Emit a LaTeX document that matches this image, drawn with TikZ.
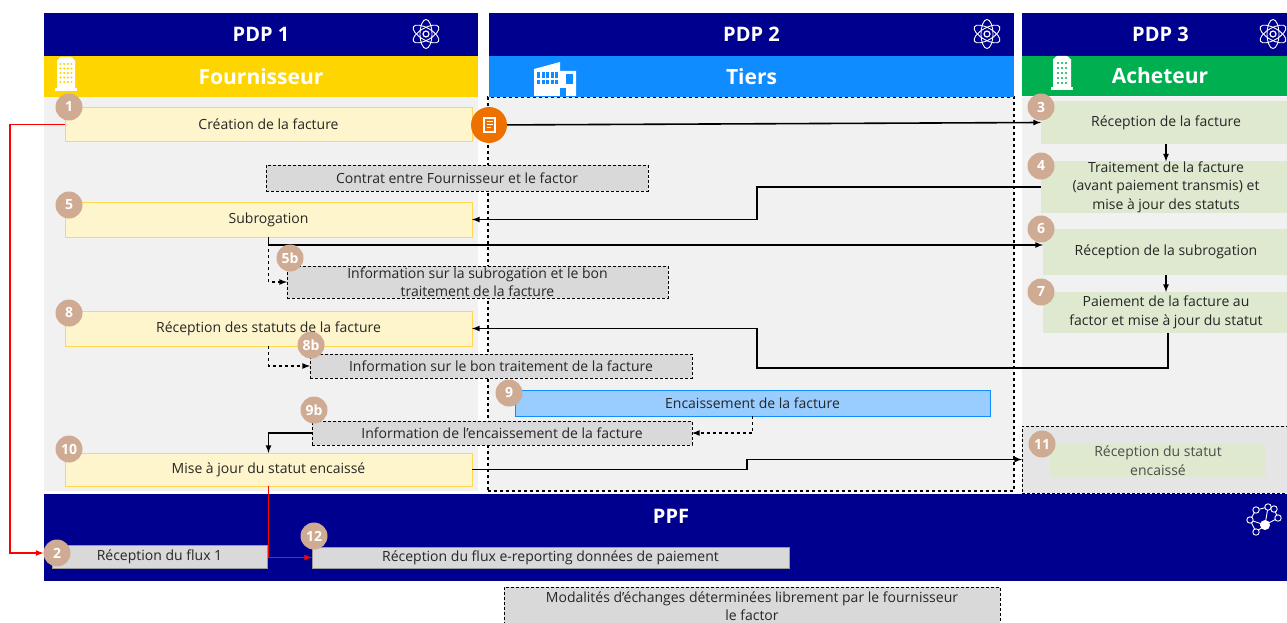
\documentclass[tikz,border=0pt]{standalone}
\usepackage{fontspec}
\usepackage{xcolor}
\setmainfont{Open Sans}

\definecolor{navy}{HTML}{00008F}
\definecolor{jaune}{HTML}{FFD500}
\definecolor{bleu}{HTML}{0F8CFF}
\definecolor{vert}{HTML}{00AF50}
\definecolor{panel}{HTML}{F1F1F1}
\definecolor{jauneclair}{HTML}{FFF5CC}
\definecolor{jaunebord}{HTML}{FFD84D}
\definecolor{vertclair}{HTML}{DFE9CF}
\definecolor{bleuclair}{HTML}{99CCFF}
\definecolor{grisbox}{HTML}{D9D9D9}
\definecolor{numero}{HTML}{CFAB93}
\definecolor{orangedoc}{HTML}{EE7100}

\newcommand{\atomicon}[1]{
\begin{scope}[shift={#1}]
\foreach \ang in {30,90,150} {
\draw [white,line width=0.9pt,rotate=\ang] (0,0) ellipse (14.5 and 6);
}
\draw [white,line width=1.2pt] (0,0) circle (3);
\end{scope}
}

\newcommand{\buildingicon}[1]{
\begin{scope}[shift={#1}]
\fill [white] (-9,33) -- (-9,3) to [out=-80, in=180] (-5,0) -- (5,0) to [out=0, in=-100] (9,3) -- (9,33) -- cycle;
\fill [white] (-11,31) rectangle (11,34);
\end{scope}
}

\begin{document}
\begin{tikzpicture}[x=1pt,y=-1pt]
\tikzset{inner sep=0pt, outer sep=0pt}
\tikzset{txt/.style={font=\fontsize{14}{18.5}\selectfont, text=black!85, align=center}}
\tikzset{head/.style={font=\fontsize{20}{24}\selectfont\bfseries, text=white, fill=navy}}
\tikzset{role/.style={font=\fontsize{21}{24}\selectfont\bfseries, text=white}}
\tikzset{yellowbox/.style={txt, fill=jauneclair, draw=jaunebord, line width=1pt}}
\tikzset{greenbox/.style={txt, fill=vertclair}}
\tikzset{greybox/.style={txt, fill=grisbox, draw=black, densely dashed, line width=0.8pt}}
\tikzset{plainbox/.style={txt, fill=grisbox, draw=black!40, line width=0.8pt}}
\tikzset{num/.style={circle, fill=numero, minimum size=27pt, text=white, font=\fontsize{14}{14}\selectfont\bfseries}}
\tikzset{solidline/.style={draw=black, line width=1.6pt, -latex}}
\tikzset{dashline/.style={draw=black, line width=1.6pt, dashed, -latex}}
\tikzset{redline/.style={draw=red, line width=1.6pt, -latex}}

\useasboundingbox (0,0) rectangle (1287,623);

\node [fill=panel, minimum width=434pt, minimum height=394pt] (panelA) at (261,294) {};
\node [fill=panel, minimum width=526pt, minimum height=394pt, draw=black, dashed, line width=1.8pt] (panelB) at (751,294) {};
\node [fill=panel, minimum width=270pt, minimum height=396pt] (panelC) at (1157,295) {};

\node [head, minimum width=434pt, minimum height=43pt] (pdpA) at (261,34.5) {PDP 1};
\node [head, minimum width=525pt, minimum height=43pt] (pdpB) at (751.5,34.5) {PDP 2};
\node [head, minimum width=270pt, minimum height=43pt, text depth=0pt] (pdpC) at (1157,34.5) {\hspace*{7pt}PDP 3};

\node [role, fill=jaune, minimum width=434pt, minimum height=41pt] (fourn) at (261,76.5) {Fournisseur};
\node [role, fill=bleu, minimum width=525pt, minimum height=41pt] (tiers) at (751.5,76.5) {Tiers};
\node [role, fill=vert, minimum width=270pt, minimum height=40pt] (achet) at (1157,76) {\hspace*{6pt}Acheteur};

\atomicon{(426,34)}
\atomicon{(987,34)}
\atomicon{(1273,34)}

% immeubles
\buildingicon{(66,57)}
\foreach \col in {-5.5,-1.8,1.8,5.5} {
\foreach \lig in {64,68.5,73,77.5,82} {
\fill [jaune] (66+\col,\lig) circle (1.2);
}
}
\buildingicon{(1062,56)}
\foreach \col in {-4,0,4} {
\foreach \lig in {63,68,73,78,83} {
\fill [vert] (1062+\col,\lig) circle (1.2);
}
}

% usine du tiers
\fill [white] (534,96) -- (534,69) -- (560,62) -- (560,71) -- (576,71) -- (576,96) -- cycle;
\foreach \col in {537,541.5,546,550.5,555} {
\fill [bleu] (\col,72) rectangle (\col+3,78);
\fill [bleu] (\col,80) rectangle (\col+3,84);
}
\fill [bleu] (566,74) rectangle (573,84);
\fill [bleu] (560,88) rectangle (566,96);

\node [greybox, minimum width=382pt, minimum height=26pt] (contrat) at (457,178) {Contrat entre Fournisseur et le factor};
\node [greybox, minimum width=381pt, minimum height=32pt] (infoS) at (477.5,282) {Information sur la subrogation et le bon\\traitement de la facture};
\node [greybox, minimum width=382pt, minimum height=24pt] (infoB) at (501,366) {Information sur le bon traitement de la facture};
\node [greybox, minimum width=380pt, minimum height=24pt] (infoE) at (502,433) {Information de l’encaissement de la facture};
\node [txt, fill=bleuclair, draw=bleu, line width=1pt, minimum width=475pt, minimum height=26pt] (encaiss) at (752.5,403) {Encaissement de la facture};

\node [yellowbox, minimum width=407pt, minimum height=33pt] (creation) at (268.5,124.5) {Création de la facture};
\node [yellowbox, minimum width=407pt, minimum height=35pt] (subrog) at (268.5,219.5) {Subrogation};
\node [yellowbox, minimum width=407pt, minimum height=35pt] (statuts) at (268.5,328.5) {Réception des statuts de la facture};
\node [yellowbox, minimum width=407pt, minimum height=33pt] (majour) at (268.5,469.5) {Mise à jour du statut encaissé};

\node [greenbox, minimum width=250pt, minimum height=43pt] (recfact) at (1166,122.5) {Réception de la facture};
\node [greenbox, minimum width=250pt, minimum height=46pt] (traitement) at (1166,187) {Traitement de la facture\\(avant paiement transmis) et\\mise à jour des statuts};
\node [greenbox, minimum width=246pt, minimum height=46pt] (recsub) at (1166,252) {Réception de la subrogation};
\node [greenbox, minimum width=246pt, minimum height=41pt] (paiement) at (1166,312.5) {Paiement de la facture au\\factor et mise à jour du statut};

\node [draw=black, densely dashed, line width=0.8pt, fill=panel!95!black, minimum width=270pt, minimum height=67pt] (boxE) at (1157,459.5) {};
\node [txt, fill=vertclair, text=black!70, minimum width=216pt, minimum height=33pt] (recstatut) at (1158,460.5) {Réception du statut\\encaissé};

\node [fill=navy, minimum width=1243pt, minimum height=87pt] (ppf) at (665.5,537.5) {};
\node [head] (ppftxt) at (671,516) {PPF};
\node [plainbox, minimum width=215pt, minimum height=23pt] (flux) at (159.5,556.5) {Réception du flux 1};
\node [plainbox, minimum width=477pt, minimum height=21pt] (ereport) at (550.5,557.5) {Réception du flux e-reporting données de paiement};
\node [greybox, minimum width=496pt, minimum height=38pt] (modal) at (752,606) {Modalités d’échanges déterminées librement par le fournisseur\\le factor};

% reseau du PPF
\foreach \nx/\ny/\nn in {1250/520/a,1256/510/b,1268/507/c,1278/518/d,1265/525/e,1256/532/f,1274/509/g} {
\coordinate (net\nn) at (\nx,\ny);
}
\draw [white,line width=0.9pt] (neta) -- (netb) -- (netc) -- (netg) -- (netd) -- (nete) -- (neta) -- (netf) -- (nete) -- (netc);
\foreach \nn in {a,b,c,d,f,g} {
\fill [navy] (net\nn) circle (3.2);
\draw [white,line width=0.9pt] (net\nn) circle (3.2);
}
\fill [white] (nete) circle (5);

\node [circle, fill=orangedoc, minimum size=36pt] (docn) at (489,125) {};
\draw [white,line width=1.2pt] (484,118) rectangle (495,132);
\draw [white,line width=1pt] (486.5,122) -- (492.5,122) (486.5,125) -- (492.5,125) (486.5,128) -- (490.5,128);

\draw [solidline] (docn) -- (recfact.west);
\draw [solidline] (recfact.south) -- (traitement.north);
\draw [solidline] (recsub.south) -- (paiement.north);
\draw [solidline] (traitement.west) -- ++(-284,0) |- (subrog.east);
\draw [dashline] (subrog.south) |- (infoS.west);
\draw [solidline] (subrog.south) |- ([yshift=7pt]recsub.west);
\draw [solidline] ([xshift=2pt]paiement.south) -- ++(0,35) -- ++(-411,0) |- (statuts.east);
\draw [dashline] (statuts.south) |- (infoB.west);
\draw [dashline] (encaiss.south) |- (infoE.east);
\draw [solidline] (infoE.west) -| (majour.north);
\draw [solidline] (majour.east) -- ++(275,0) |- (boxE.west);

\node [num] (nA) at (69,107) {1};
\node [num] (nB) at (57,553) {2};
\node [num] (nC) at (1041,107) {3};
\node [num] (nD) at (1041,166) {4};
\node [num] (nE) at (69,205) {5};
\node [num] (nEb) at (290,258) {5b};
\node [num] (nF) at (1041,229) {6};
\node [num] (nG) at (1041,292) {7};
\node [num] (nH) at (69,313) {8};
\node [num] (nHb) at (311,345) {8b};
\node [num] (nI) at (509,393) {9};
\node [num] (nIb) at (314,410) {9b};
\node [num] (nJ) at (69,449) {10};
\node [num] (nK) at (1042,444) {11};
\node [num] (nL) at (314,536) {12};

\draw [redline] (creation.west) -- ++(-55,0) |- (nB.west);
\draw [redline] (majour.south) |- (ereport.west);

\end{tikzpicture}
\end{document}
